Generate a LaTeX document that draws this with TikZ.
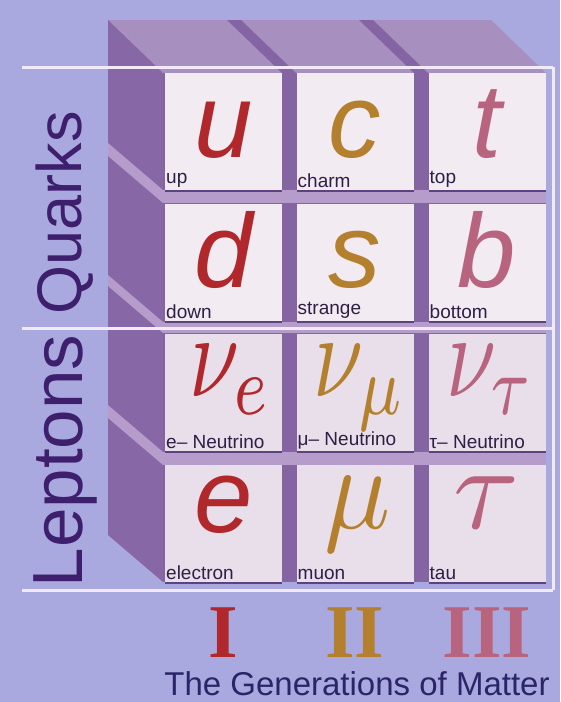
\documentclass[tikz,border=0pt]{standalone}
\usepackage{fontspec}
\usepackage{graphicx}
\setmainfont{Liberation Sans}
\newfontfamily\numeralfont{Liberation Serif}

\definecolor{bglav}{HTML}{A9A9DF}
\definecolor{topface}{HTML}{A78FC0}
\definecolor{sideface}{HTML}{8767A5}
\definecolor{gapdark}{HTML}{8464A2}
\definecolor{gaplight}{HTML}{B59CCB}
\definecolor{tileshade}{HTML}{5E4280}
\definecolor{quarkface}{HTML}{F3EBF2}
\definecolor{leptonface}{HTML}{E8DFEA}
\definecolor{framewhite}{HTML}{F2EAF8}
\definecolor{labelink}{HTML}{2E1F45}
\definecolor{sideink}{HTML}{3E1F6E}
\definecolor{titleink}{HTML}{2C2468}
\definecolor{genI}{HTML}{B0282C}
\definecolor{genII}{HTML}{B5802E}
\definecolor{genIII}{HTML}{B8647E}

\begin{document}
\begin{tikzpicture}[
  x=1pt,
  y=-1pt,
  line join=round,
  frameline/.style={draw=framewhite,line width=3pt},
  tile/.style={minimum width=117pt,minimum height=118pt,inner sep=0pt,outer sep=0pt},
  quarktile/.style={tile,fill=quarkface},
  leptontile/.style={tile,fill=leptonface},
  tileshadow/.style={draw=tileshade,line width=2pt},
  flavlabel/.style={anchor=south west,inner sep=1pt,yshift=1.5pt,text=labelink,font=\fontsize{19}{19}\selectfont},
  flavsym/.style={anchor=base,inner sep=0pt,font=\fontsize{105}{105}\selectfont\itshape},
  greeksym/.style={anchor=base,inner sep=0pt},
  sidelabel/.style={anchor=base,rotate=90,inner sep=0pt,text=sideink},
  numeral/.style={inner sep=0pt,font=\fontsize{76}{76}\selectfont\numeralfont\bfseries}
]
  % Reference frame is 560 x 702 px.
  \fill[bglav] (0,0) rectangle (560,702);
  \useasboundingbox (0,0) rectangle (560,702);

  % Block outline: back corners are shifted by (-55,-47) from the front.
  \coordinate (ftl) at (163,73);
  \coordinate (ftr) at (546,73);
  \coordinate (fbl) at (163,582);
  \coordinate (fbr) at (546,582);

  % Top and left faces of the stack of cubes.
  \fill[topface] (ftl) -- (ftr) -- ++(-55,-53) -- (108,20) -- cycle;
  \fill[sideface] (ftl) -- (108,20) -- (108,535) -- (fbl) -- cycle;

  % Dark side slivers of columns II and III seen on the top face.
  \foreach \a in {282,414} {
    \fill[gapdark] (\a,73) -- (\a+14,73) -- (\a-41,20) -- (\a-55,20) -- cycle;
  }

  % Light top slivers of the lower rows seen on the left face.
  \foreach \a/\b in {190/203,322/333,452/465} {
    \fill[gaplight] (163,\a) -- (163,\b) -- (108,\b-47) -- (108,\a-47) -- cycle;
  }

  % Front face: dark column gaps, light row gaps.
  \fill[gapdark] (ftl) rectangle (fbr);
  \foreach \a/\b in {190/203,322/333,452/465} {
    \fill[gaplight] (163,\a) rectangle (546,\b);
  }

  % Tiles of the particle table.
  \foreach \col/\cx in {1/223.5,2/355,3/487} {
    \foreach \row/\cy in {1/131.5,2/262.5} {
      \node[quarktile] (tile-\col-\row) at (\cx,\cy) {};
    }
    \foreach \row/\cy in {3/392.5,4/523.5} {
      \node[leptontile] (tile-\col-\row) at (\cx,\cy) {};
    }
    \foreach \row in {1,2,3,4} {
      \draw[tileshadow] (tile-\col-\row.south west) -- (tile-\col-\row.south east);
    }
  }

  % White frame lines.
  \draw[frameline] (22,67) -- (553,67);
  \draw[frameline] (22,328) -- (553,328);
  \draw[frameline] (22,590) -- (553,590);
  \draw[frameline] (553,67) -- (553,590);

  % Quark symbols.
  \node[flavsym,text=genI] (sym-1-1) at (223.5,157) {u};
  \node[flavsym,text=genII] (sym-2-1) at (355,157) {c};
  \node[flavsym,text=genIII] (sym-3-1) at (487,157) {t};
  \node[flavsym,text=genI] (sym-1-2) at (223.5,287) {d};
  \node[flavsym,text=genII] (sym-2-2) at (355,287) {s};
  \node[flavsym,text=genIII] (sym-3-2) at (487,287) {b};

  % Lepton symbols.
  \node[greeksym,text=genI] (sym-1-3) at (231,396) {\scalebox{9}[12]{$\nu_e$}};
  \node[greeksym,text=genII] (sym-2-3) at (360,396) {\scalebox{9}[12]{$\nu_\mu$}};
  \node[greeksym,text=genIII] (sym-3-3) at (491,396) {\scalebox{9}[12]{$\nu_\tau$}};
  \node[flavsym,text=genI] (sym-1-4) at (223.5,532) {e};
  \node[greeksym,text=genII] (sym-2-4) at (358,528) {\scalebox{11}[12]{$\mu$}};
  \node[greeksym,text=genIII] (sym-3-4) at (487,528) {\scalebox{12}{$\tau$}};

  % Names in the lower left corner of each tile.
  \foreach \col/\row/\name in {1/1/up,2/1/charm,3/1/top,1/2/down,2/2/strange,3/2/bottom,
      1/3/{e– Neutrino},2/3/{μ– Neutrino},3/3/{τ– Neutrino},1/4/electron,2/4/muon,3/4/tau} {
    \node[flavlabel] (lab-\col-\row) at (tile-\col-\row.south west) {\name};
  }

  % Family names on the left.
  \node[sidelabel,font=\fontsize{63}{63}\selectfont] (quarks) at (81,213) {Quarks};
  \node[sidelabel,font=\fontsize{71}{71}\selectfont] (leptons) at (82,461) {Leptons};

  % Generation numerals and caption.
  \node[numeral,text=genI] (gen-1) at (223.5,633) {I};
  \node[numeral,text=genII] (gen-2) at (355,633) {II};
  \node[numeral,text=genIII] (gen-3) at (487,633) {III};
  \node[anchor=base,inner sep=0pt,text=titleink,font=\fontsize{33}{33}\selectfont]
    (caption) at (357,695) {The Generations of Matter};
\end{tikzpicture}
\end{document}
